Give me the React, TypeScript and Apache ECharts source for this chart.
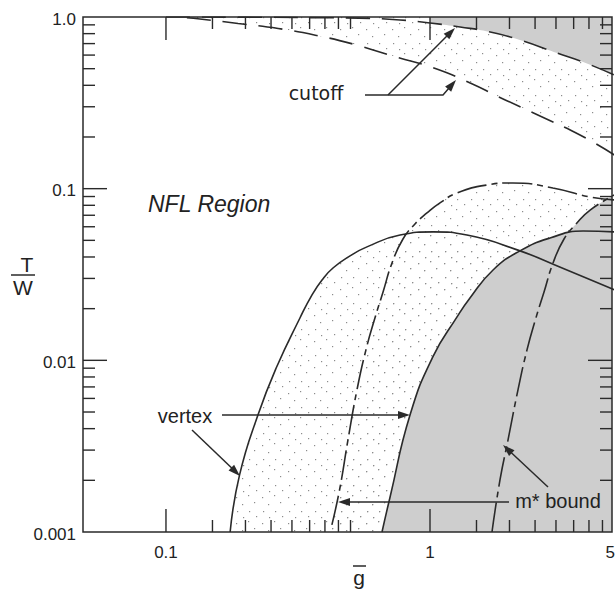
import React, { useEffect, useRef } from "react";
import * as echarts from "echarts";

// Axis extents (log-log)
const X_MIN = 0.0485;
const X_MAX = 4.89;
const Y_MIN = 0.001;
const Y_MAX = 1;

// Tick labels
const xLabelValues = [0.1, 1, 5];
const xLabelTexts = ["0.1", "1", "5"];
const yLabelValues = [1, 0.1, 0.01, 0.001];
const yLabelTexts = ["1.0", "0.1", "0.01", "0.001"];

// Tick positions
const xMajorTicks = [0.1, 1];
const xMinorTicks = [0.15, 0.2, 0.25, 0.3, 0.35, 0.4, 0.45, 0.5, 1.5, 2, 2.5, 3, 3.5, 4, 4.5];
const yMajorTicks = [0.01, 0.1];
const yMinorTicks = [
  0.002, 0.003, 0.004, 0.005, 0.006, 0.007, 0.008, 0.009,
  0.02, 0.03, 0.04, 0.05, 0.06, 0.07, 0.08, 0.09,
  0.2, 0.3, 0.4, 0.5, 0.6, 0.7, 0.8, 0.9,
];

// Curves [g, T/W]
const upperCutoff = [
  [0.1, 1.0], [0.2, 0.998], [0.32, 0.993], [0.54, 0.985], [0.77, 0.961], [1.0, 0.923],
  [1.3, 0.875], [1.69, 0.818], [2.19, 0.735], [3.03, 0.617], [3.8, 0.547], [5, 0.459],
];
const lowerCutoff = [
  [0.12, 0.99], [0.1345, 0.974], [0.1875, 0.917], [0.266, 0.857], [0.373, 0.78], [0.52, 0.691],
  [0.743, 0.585], [1.02, 0.508], [1.42, 0.413], [1.84, 0.34], [2.61, 0.265], [3.7, 0.2055], [5, 0.157],
];
const vertexLeft = [
  [0.175, 0.001], [0.19, 0.00215], [0.223, 0.0048], [0.263, 0.0092], [0.322, 0.0177], [0.357, 0.024],
  [0.39, 0.0294], [0.429, 0.0345], [0.498, 0.0406], [0.577, 0.0458], [0.77, 0.0537], [1.03, 0.056],
  [1.38, 0.0537], [2.14, 0.044], [3.1, 0.035], [5, 0.0257],
];
const vertexRight = [
  [0.658, 0.001], [0.706, 0.0016], [0.84, 0.0048], [1.026, 0.0105], [1.266, 0.0179], [1.417, 0.0231],
  [1.733, 0.0336], [2.19, 0.0434], [2.848, 0.0516], [3.8, 0.0567], [5, 0.056],
];
const mBoundLeft = [
  [0.425, 0.0011], [0.456, 0.00181], [0.489, 0.00344], [0.529, 0.00673], [0.572, 0.0115], [0.619, 0.0177],
  [0.664, 0.025], [0.718, 0.0369], [0.79, 0.0509], [0.877, 0.0623], [0.974, 0.0722], [1.091, 0.0826],
  [1.266, 0.0944], [1.64, 0.105], [2.06, 0.108], [2.92, 0.101], [4.04, 0.0895], [5, 0.086],
];
const mBoundRight = [
  [1.717, 0.001], [1.841, 0.00201], [1.975, 0.00344], [2.154, 0.00673], [2.33, 0.0115], [2.52, 0.0177],
  [2.703, 0.025], [2.924, 0.0369], [3.218, 0.0509], [3.573, 0.0623], [4.04, 0.0751], [5, 0.092],
];

const INK = "#2a2a2a";
const GRAY = "#cecece";
const FONT = '"Liberation Sans", Arial, Helvetica, sans-serif';

function makeStipple(): HTMLCanvasElement {
  const c = document.createElement("canvas");
  c.width = 26;
  c.height = 26;
  const ctx = c.getContext("2d")!;
  ctx.fillStyle = "#8c8c8c";
  const dots = [
    [2, 3], [14, 1], [8, 10], [20, 8], [3, 17], [15, 17], [22, 22], [9, 23],
  ];
  dots.forEach(([x, y]) => ctx.fillRect(x, y, 1.2, 1.2));
  return c;
}

function arrow(pts: number[][], head = 12, half = 4): any[] {
  const n = pts.length;
  const [tx, ty] = pts[n - 1];
  const [px, py] = pts[n - 2];
  const dx = tx - px;
  const dy = ty - py;
  const L = Math.hypot(dx, dy);
  const ux = dx / L;
  const uy = dy / L;
  const bx = tx - ux * head;
  const by = ty - uy * head;
  const poly = [
    [tx, ty],
    [bx - uy * half, by + ux * half],
    [bx + uy * half, by - ux * half],
  ];
  const linePts = [...pts.slice(0, -1), [bx + ux * 2, by + uy * 2]];
  return [
    { type: "polyline", z: 20, shape: { points: linePts }, style: { stroke: INK, lineWidth: 1.5, fill: null } },
    { type: "polygon", z: 20, shape: { points: poly }, style: { fill: INK } },
  ];
}

function txt(x: number, y: number, text: string, size: number, align = "center", extra: any = {}) {
  return {
    type: "text",
    z: 20,
    x,
    y,
    style: {
      text,
      font: `${extra.italic ? "italic " : ""}${size}px ${extra.family || FONT}`,
      fill: "#222",
      align,
      verticalAlign: "middle",
      textAlign: align,
      textVerticalAlign: "middle",
    },
  };
}

export default function App() {
  const ref = useRef<HTMLDivElement>(null);

  useEffect(() => {
    if (!ref.current) return;
    const chart = echarts.init(ref.current, undefined, { renderer: "svg" });
    const stipple = { image: makeStipple(), repeat: "repeat", imageWidth: 26, imageHeight: 26 };

    const SMOOTH = 0.5;
    const area = (data: number[][], fill: any, origin: string, z: number) => ({
      type: "line",
      data,
      smooth: SMOOTH,
      symbol: "none",
      silent: true,
      lineStyle: { width: 0, opacity: 0 },
      areaStyle: { color: fill, opacity: 1, origin },
      z,
    });
    const curve = (data: number[][], dash: any) => ({
      type: "line",
      data,
      smooth: SMOOTH,
      symbol: "none",
      silent: true,
      lineStyle: { color: INK, width: 1.6, type: dash },
      z: 5,
    });

    const xTickData = [
      ...xMajorTicks.map((v) => [v, Y_MIN, 23]),
      ...xMinorTicks.map((v) => [v, Y_MIN, 12]),
    ];
    const yTickData = [
      ...yMajorTicks.map((v) => [X_MIN, v, 24]),
      ...yMinorTicks.map((v) => [X_MIN, v, 12]),
    ];
    const tickStyle = { stroke: INK, lineWidth: 1.4 };

    const option: any = {
      animation: false,
      backgroundColor: "#ffffff",
      grid: { left: 83, right: 3, top: 17, bottom: 60 },
      xAxis: {
        type: "log",
        logBase: 10,
        min: X_MIN,
        max: X_MAX,
        axisLine: { show: false },
        axisTick: { show: false },
        axisLabel: { show: false },
        splitLine: { show: false },
      },
      yAxis: {
        type: "log",
        logBase: 10,
        min: Y_MIN,
        max: Y_MAX,
        axisLine: { show: false },
        axisTick: { show: false },
        axisLabel: { show: false },
        splitLine: { show: false },
      },
      series: [
        area(lowerCutoff, stipple, "end", 1),
        area(vertexLeft, stipple, "start", 1),
        area(mBoundLeft, stipple, "start", 1),
        area(upperCutoff.filter((p) => p[0] >= 1), GRAY, "end", 2),
        area(vertexRight, GRAY, "start", 2),
        area(mBoundRight, GRAY, "start", 2),
        curve(upperCutoff, [24, 12]),
        curve(lowerCutoff, [24, 12]),
        curve(vertexLeft, "solid"),
        curve(vertexRight, "solid"),
        curve(mBoundLeft, [30, 5, 6, 5]),
        curve(mBoundRight, [30, 5, 6, 5]),
        {
          type: "custom",
          data: xTickData,
          encode: { x: 0, y: 1 },
          silent: true,
          z: 6,
          renderItem: (params: any, api: any) => {
            const v = api.value(0);
            const len = api.value(2);
            const b = api.coord([v, Y_MIN]);
            const t = api.coord([v, Y_MAX]);
            return {
              type: "group",
              children: [
                { type: "line", shape: { x1: b[0], y1: b[1], x2: b[0], y2: b[1] - len }, style: tickStyle },
                { type: "line", shape: { x1: t[0], y1: t[1], x2: t[0], y2: t[1] + len }, style: tickStyle },
              ],
            };
          },
        },
        {
          type: "custom",
          data: yTickData,
          encode: { x: 0, y: 1 },
          silent: true,
          z: 6,
          renderItem: (params: any, api: any) => {
            const v = api.value(1);
            const len = api.value(2);
            const l = api.coord([X_MIN, v]);
            const r = api.coord([X_MAX, v]);
            return {
              type: "group",
              children: [
                { type: "line", shape: { x1: l[0], y1: l[1], x2: l[0] + len, y2: l[1] }, style: tickStyle },
                { type: "line", shape: { x1: r[0], y1: r[1], x2: r[0] - len, y2: r[1] }, style: tickStyle },
              ],
            };
          },
        },
        {
          type: "custom",
          data: xLabelValues.map((v) => [v, Y_MIN]),
          encode: { x: 0, y: 1 },
          silent: true,
          z: 6,
          renderItem: (params: any, api: any) => {
            const p = api.coord([api.value(0), Y_MIN]);
            const last = params.dataIndex === xLabelValues.length - 1;
            return {
              type: "text",
              x: last ? Math.min(p[0] + 4, 615) : p[0],
              y: p[1] + 20,
              style: {
                text: xLabelTexts[params.dataIndex],
                font: `17px ${FONT}`,
                fill: "#222",
                align: last ? "right" : "center",
                verticalAlign: "middle",
              },
            };
          },
        },
        {
          type: "custom",
          data: yLabelValues.map((v) => [X_MIN, v]),
          encode: { x: 0, y: 1 },
          silent: true,
          z: 6,
          renderItem: (params: any, api: any) => {
            const p = api.coord([X_MIN, api.value(1)]);
            return {
              type: "text",
              x: p[0] - 7,
              y: p[1] + 2,
              style: {
                text: yLabelTexts[params.dataIndex],
                font: `17px ${FONT}`,
                fill: "#222",
                align: "right",
                verticalAlign: "middle",
              },
            };
          },
        },
      ],
      graphic: [
        {
          type: "rect",
          z: 30,
          shape: { x: 83, y: 17, width: 529, height: 515 },
          style: { fill: null, stroke: INK, lineWidth: 1.5 },
        },
        txt(148, 204, "NFL Region", 23, "left", { italic: true }),
        txt(316, 93, "cutoff", 19, "center", { family: '"DejaVu Sans", sans-serif' }),
        txt(185, 416, "vertex", 20, "center"),
        txt(558, 501, "m* bound", 20, "center"),
        ...arrow([[365, 95], [443, 95], [456, 80]]),
        ...arrow([[388, 95], [455, 28]]),
        ...arrow([[222, 415], [410, 415]]),
        ...arrow([[192, 430], [240, 476]]),
        ...arrow([[509, 502], [338, 502]]),
        ...arrow([[548, 487], [503, 445]]),
        txt(27, 264, "T", 21, "center"),
        { type: "line", z: 20, shape: { x1: 11, y1: 275, x2: 35, y2: 275 }, style: { stroke: INK, lineWidth: 1.5 } },
        txt(23, 287, "W", 21, "center"),
        txt(359, 577, "g", 21, "center"),
        { type: "line", z: 20, shape: { x1: 353, y1: 566, x2: 366, y2: 566 }, style: { stroke: INK, lineWidth: 1.5 } },
      ],
    };
    chart.setOption(option);
    return () => chart.dispose();
  }, []);

  return (
    <div
      ref={ref}
      style={{ position: "fixed", left: 0, top: 0, width: 615, height: 592, background: "#fff" }}
    />
  );
}
